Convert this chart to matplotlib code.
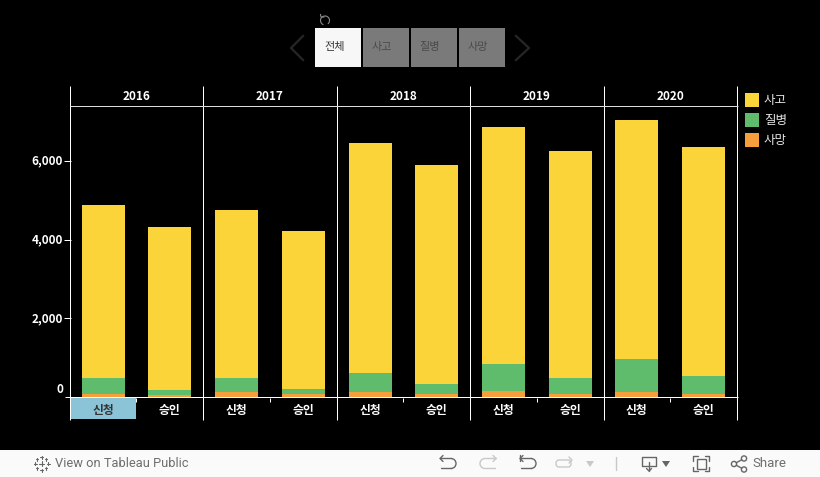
import matplotlib
matplotlib.use("Agg")
import matplotlib.pyplot as plt
from matplotlib.patches import Rectangle, Arc, FancyBboxPatch
import numpy as np

plt.rcParams['font.family'] = ['Noto Sans CJK KR', 'DejaVu Sans']

years = ['2016', '2017', '2018', '2019', '2020']
kinds = ['신청', '승인']
death = [76, 51, 127, 76, 127, 76, 153, 76, 127, 76]
illness = [407, 127, 356, 127, 483, 254, 686, 407, 839, 458]
accident = [4399, 4144, 4272, 4017, 5848, 5570, 6026, 5772, 6077, 5822]
yticks = [0, 2000, 4000, 6000]
series_names = ['사고', '질병', '사망']
colors = {'사고': '#FBD43A', '질병': '#5FBC6D', '사망': '#F69E3C'}
buttons = ['전체', '사고', '질병', '사망']

W, H = 820, 477
fig = plt.figure(figsize=((W + 0.01) / 100, (H + 0.01) / 100), dpi=100, facecolor='black')

# pixel-space overlay for chrome
bg = fig.add_axes([0, 0, 1, 1], zorder=0)
bg.set_xlim(0, W); bg.set_ylim(H, 0); bg.axis('off')

# main plot
L, R, T, B = 70.6, 737.6, 106, 397
ax = fig.add_axes([L / W, 1 - B / H, (R - L) / W, (B - T) / H], zorder=1)
ax.set_facecolor('none')
ax.set_xlim(0, 10)
ax.set_ylim(0, (B - T) / 0.03933)
x = np.arange(10) + 0.49
bw = 0.645
d = np.array(death); i = np.array(illness); a = np.array(accident)
ax.bar(x, d, bw, color=colors['사망'])
ax.bar(x, i, bw, bottom=d, color=colors['질병'])
ax.bar(x, a, bw, bottom=d + i, color=colors['사고'])
for s in ['top', 'right', 'left', 'bottom']:
    ax.spines[s].set_visible(False)
ax.set_xticks([])
ax.set_yticks(yticks)
ax.set_yticklabels([])
ax.tick_params(axis='y', colors='white', length=5, width=0.72, left=True)
ax.yaxis.get_major_ticks()[0].tick1line.set_visible(False)
for v in yticks:
    ty = 397 - v * 0.03933 - (7.5 if v == 0 else 0)
    bg.text(63, ty, f'{v:,}', color='white', fontsize=8.5, fontweight='bold',
            ha='right', va='center')

# panel rules
edges = [70, 203, 337, 470, 604, 737]
for e in edges:
    bg.plot([e, e], [86, 420], color='white', lw=0.72, solid_capstyle='butt', zorder=3)
bg.plot([65, 738], [397.5, 397.5], color='white', lw=0.72, solid_capstyle='butt', zorder=3)
bg.plot([70, 738], [106.5, 106.5], color='#DDDDDD', lw=0.72, solid_capstyle='butt', zorder=3)
for k, y in enumerate(years):
    bg.text((edges[k] + edges[k + 1]) / 2, 96.5, y, color='white', fontsize=8.5,
            fontweight='bold', ha='center', va='center')

# highlighted header cell and category labels
bg.add_patch(Rectangle((71, 398), 65, 21, color='#8BC4D6', lw=0, zorder=2))
for n in range(10):
    cx = 70.5 + (n + 0.49) * 66.7
    bg.text(cx, 410, kinds[n % 2], color='#333333' if n == 0 else 'white', fontsize=8.5,
            fontweight='bold', ha='center', va='center', zorder=4)
for e0, e1 in zip(edges[:-1], edges[1:]):
    m = int((e0 + e1) / 2)
    bg.plot([m, m], [398, 402], color='white', lw=0.72, solid_capstyle='butt', zorder=3)

# legend
for k, name in enumerate(series_names):
    y0 = 93 + k * 20
    bg.add_patch(Rectangle((745, y0), 14, 14, color=colors[name], lw=0))
    bg.text(764, y0 + 7, name, color='#E6E6E6', fontsize=9, ha='left', va='center')

# filter buttons
for k, name in enumerate(buttons):
    x0 = 315 + k * 48
    on = k == 0
    bg.add_patch(Rectangle((x0, 28), 46, 39, color='#F7F7F7' if on else '#7A7A7A', lw=0))
    bg.text(x0 + (20 if on else 18.5), 46.5, name, color='#333333' if on else '#4A4A4A',
            fontsize=8, ha='center', va='center')
bg.plot([303, 291, 303], [36, 48, 60], color='#262626', lw=1.6)
bg.plot([516, 529, 516], [36, 48, 60], color='#262626', lw=1.6)
bg.add_patch(Arc((325, 20.5), 9, 9, theta1=-250, theta2=50, color='#8A8A8A', lw=0.8))
bg.plot([320.5, 321, 324], [14.5, 17, 17], color='#8A8A8A', lw=0.8)

# footer
bg.add_patch(Rectangle((0, 450), W, 27, color='#FAFAFA', lw=0, zorder=5))
ic = '#666666'
pale = '#C8C8C8'
def line(xs, ys, c=ic, lw=1.0):
    bg.plot(xs, ys, color=c, lw=lw, zorder=6, solid_capstyle='round')
for cx, cy, s in [(41.5, 464, 2.5), (35, 464, 1.5), (48, 464, 1.5), (41.5, 457.5, 1.5), (41.5, 470.5, 1.5),
                  (37, 459.5, 1.2), (46, 459.5, 1.2), (37, 468.5, 1.2), (46, 468.5, 1.2)]:
    line([cx - s, cx + s], [cy, cy], lw=0.8); line([cx, cx], [cy - s, cy + s], lw=0.8)
bg.text(55, 463.5, 'View on Tableau Public', color='#6E6E6E', fontsize=9.3, family='Roboto',
        ha='left', va='center', zorder=6)
def turn(x0, x1, col, arrow_left=True):
    r = 5
    if arrow_left:
        line([x0, x1 - r], [458.5, 458.5], col)
        bg.add_patch(Arc((x1 - r, 463.5), 2 * r, 10, theta1=-90, theta2=90, color=col, lw=1, zorder=6))
        line([x1 - r, x0 + 1], [468.5, 468.5], col)
        line([x0 + 3, x0, x0 + 3], [455.5, 458.5, 461.5], col)
    else:
        line([x1, x0 + r], [458.5, 458.5], col)
        bg.add_patch(Arc((x0 + r, 463.5), 2 * r, 10, theta1=90, theta2=270, color=col, lw=1, zorder=6))
        line([x0 + r, x1 - 1], [468.5, 468.5], col)
        line([x1 - 3, x1, x1 - 3], [455.5, 458.5, 461.5], col)
turn(440, 456, ic)
turn(480, 496, pale, arrow_left=False)
turn(520, 536, ic)
line([520, 520], [455.5, 461.5])
bg.add_patch(FancyBboxPatch((556, 460), 15, 7, boxstyle='round,pad=0,rounding_size=3',
                            fill=False, ec=pale, lw=1, zorder=6))
line([569, 572, 569], [457, 460, 463], pale)
bg.fill([586, 594, 590], [461, 461, 467], color=pale, lw=0, zorder=6)
line([615.5, 615.5], [457, 470], pale)
line([648, 642, 642, 656, 656, 650], [466.5, 466.5, 457, 457, 466.5, 466.5])
line([649, 649], [462, 471]); line([646.5, 649, 651.5], [468.5, 471, 468.5])
bg.fill([662, 670, 666], [461, 461, 467], color=ic, lw=0, zorder=6)
bg.add_patch(Rectangle((697, 459), 9, 10, fill=False, ec=ic, lw=1, zorder=6))
line([693, 693, 698], [461, 456.5, 456.5]); line([705, 709, 709], [456.5, 456.5, 461])
line([693, 693, 698], [467, 471.5, 471.5]); line([705, 709, 709], [471.5, 471.5, 467])
for cx, cy in [(734, 464), (744, 458.5), (744, 469.5)]:
    bg.add_patch(plt.Circle((cx, cy), 2.6, fill=False, ec=ic, lw=1, zorder=6))
line([736.3, 741.7], [462.7, 459.8]); line([736.3, 741.7], [465.3, 468.2])
bg.text(752, 463.5, 'Share', color='#6E6E6E', fontsize=9.5, family='Roboto', ha='left',
        va='center', zorder=6)

fig.savefig('out.png', dpi=100, facecolor='black')
